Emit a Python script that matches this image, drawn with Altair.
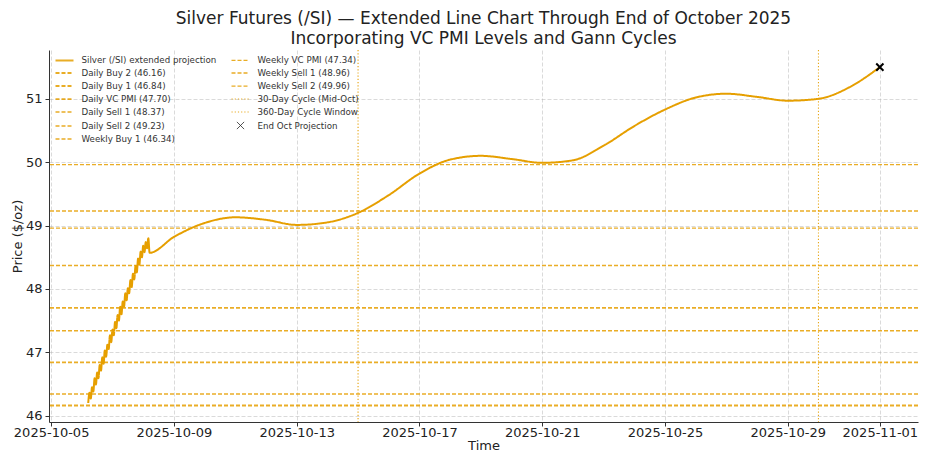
import altair as alt
import pandas as pd

# ---------------- data ----------------
main_name = "Silver (/SI) extended projection"

intraday_start = "2025-10-06T05:00"
intraday_prices = [46.20, 46.36, 46.27, 46.45, 46.38, 46.59, 46.49, 46.68, 46.59, 46.80,
                   46.71, 46.92, 46.82, 47.03, 46.93, 47.12, 47.05, 47.27, 47.16, 47.36,
                   47.27, 47.48, 47.38, 47.59, 47.50, 47.72, 47.60, 47.80, 47.72, 47.93,
                   47.82, 48.01, 47.93, 48.14, 48.03, 48.24, 48.15, 48.36, 48.26, 48.48,
                   48.38, 48.59, 48.50, 48.68, 48.58, 48.74, 48.64, 48.80]

proj_dates = ["2025-10-08T05:00", "2025-10-09T00:00", "2025-10-10T00:00", "2025-10-11T00:00",
              "2025-10-12T00:00", "2025-10-13T00:00", "2025-10-14T00:00", "2025-10-15T00:00",
              "2025-10-16T00:00", "2025-10-17T00:00", "2025-10-18T00:00", "2025-10-19T00:00",
              "2025-10-20T00:00", "2025-10-21T00:00", "2025-10-22T00:00", "2025-10-23T00:00",
              "2025-10-24T00:00", "2025-10-25T00:00", "2025-10-26T00:00", "2025-10-27T00:00",
              "2025-10-28T00:00", "2025-10-29T00:00", "2025-10-30T00:00", "2025-10-31T00:00",
              "2025-11-01T00:00"]
proj_prices = [48.57, 48.82, 49.04, 49.13, 49.09, 49.01, 49.05, 49.20, 49.48, 49.82,
               50.04, 50.10, 50.05, 49.99, 50.03, 50.26, 50.57, 50.83, 51.02, 51.08,
               51.03, 50.97, 51.00, 51.18, 51.50]

level_names = ["Daily Buy 2 (46.16)", "Daily Buy 1 (46.84)", "Daily VC PMI (47.70)",
               "Daily Sell 1 (48.37)", "Daily Sell 2 (49.23)", "Weekly Buy 1 (46.34)",
               "Weekly VC PMI (47.34)", "Weekly Sell 1 (48.96)", "Weekly Sell 2 (49.96)"]
level_values = [46.16, 46.84, 47.70, 48.37, 49.23, 46.34, 47.34, 48.96, 49.96]

cycle_names = ["30-Day Cycle (Mid-Oct)", "360-Day Cycle Window"]
cycle_dates = ["2025-10-15T00:00", "2025-10-30T00:00"]

end_name = "End Oct Projection"
end_date = ["2025-11-01T00:00"]
end_price = [51.50]

x_tick_dates = [(2025, 10, 5), (2025, 10, 9), (2025, 10, 13), (2025, 10, 17),
                (2025, 10, 21), (2025, 10, 25), (2025, 10, 29), (2025, 11, 1)]
y_ticks = [46, 47, 48, 49, 50, 51]

title_lines = ["Silver Futures (/SI) \u2014 Extended Line Chart Through End of October 2025",
               "Incorporating VC PMI Levels and Gann Cycles"]

# ---------------- tables ----------------
intraday_times = pd.date_range(intraday_start, periods=len(intraday_prices), freq="h")
main_df = pd.DataFrame({
    "time": [t.strftime("%Y-%m-%dT%H:%M") for t in intraday_times] + proj_dates,
    "price": intraday_prices + proj_prices,
    "series": main_name,
})
level_df = pd.DataFrame({"price": level_values, "series": level_names})
cycle_df = pd.DataFrame({"time": cycle_dates, "series": cycle_names})
end_df = pd.DataFrame({"time": end_date, "price": end_price, "series": end_name})

# legend order (Vega fills the 2 legend columns top to bottom)
legend_order = [main_name] + level_names + cycle_names + [end_name]

ORANGE = "#E69F00"
LINE_PATH = "M-2,0L2,0"
X_PATH = "M-0.8,-0.8L0.8,0.8M-0.8,0.8L0.8,-0.8"


def style_for(name):
    if name == main_name:
        return ORANGE, [1, 0], LINE_PATH, 2.0
    if name in cycle_names:
        return ORANGE, [1.2, 2], LINE_PATH, 1.2
    if name == end_name:
        return "black", [1, 0], X_PATH, 2.0
    return ORANGE, [4, 2], LINE_PATH, 1.0


colors = [style_for(n)[0] for n in legend_order]
dashes = [style_for(n)[1] for n in legend_order]
shapes = [style_for(n)[2] for n in legend_order]
widths = [style_for(n)[3] for n in legend_order]

legend = alt.Legend(title=None, orient="none", legendX=10, legendY=4.5, columns=2,
                    columnPadding=11, rowPadding=2, labelFontSize=8.7, labelFont="DejaVu Sans",
                    labelColor="#333", labelOffset=11.5, symbolSize=81, padding=0,
                    labelLimit=300)

color_enc = alt.Color("series:N", scale=alt.Scale(domain=legend_order, range=colors), legend=legend)
dash_enc = alt.StrokeDash("series:N", scale=alt.Scale(domain=legend_order, range=dashes), legend=legend)
shape_enc = alt.Shape("series:N", scale=alt.Scale(domain=legend_order, range=shapes), legend=legend)
width_enc = alt.StrokeWidth("series:N", scale=alt.Scale(domain=legend_order, range=widths), legend=legend)

x_scale = alt.Scale(domain=[alt.DateTime(year=2025, month=10, date=4, hours=22, minutes=20),
                            alt.DateTime(year=2025, month=11, date=2, hours=5, minutes=50)])
y_scale = alt.Scale(domain=[45.9, 51.77], nice=False, zero=False)

x_axis = alt.Axis(title="Time", format="%Y-%m-%d", labelAngle=0,
                  values=[alt.DateTime(year=y, month=m, date=d) for (y, m, d) in x_tick_dates])
y_axis = alt.Axis(title="Price ($/oz)", values=y_ticks, format="d")

levels = alt.Chart(level_df).mark_rule(opacity=0.85).encode(
    y=alt.Y("price:Q", scale=y_scale, axis=y_axis),
    color=color_enc, strokeDash=dash_enc, strokeWidth=width_enc,
)
cycles = alt.Chart(cycle_df).mark_rule(opacity=0.9).encode(
    x=alt.X("time:T", scale=x_scale, axis=x_axis),
    color=color_enc, strokeDash=dash_enc, strokeWidth=width_enc,
)
line = alt.Chart(main_df).mark_line(interpolate="monotone").encode(
    x=alt.X("time:T", scale=x_scale, axis=x_axis),
    y=alt.Y("price:Q", scale=y_scale, axis=y_axis),
    color=color_enc, strokeDash=dash_enc, strokeWidth=width_enc,
)
end_pt = alt.Chart(end_df).mark_point(filled=False, strokeWidth=2, opacity=1, size=81).encode(
    x=alt.X("time:T", scale=x_scale, axis=x_axis),
    y=alt.Y("price:Q", scale=y_scale, axis=y_axis),
    color=color_enc, shape=shape_enc,
)

chart = alt.layer(levels, cycles, line, end_pt).properties(
    width=869, height=372,
    title=alt.Title(text=title_lines, fontSize=17, font="DejaVu Sans", fontWeight="normal",
                    color="#222", anchor="middle", lineHeight=20, offset=1),
    autosize=alt.AutoSizeParams(type="none"),
    padding={"left": 41, "top": 42, "right": 4, "bottom": 31},
).configure_view(stroke=None).configure_axis(
    labelFont="DejaVu Sans", titleFont="DejaVu Sans", labelFontSize=13, titleFontSize=13,
    labelColor="#222", titleColor="#222", titleFontWeight="normal",
    domainColor="#333", tickColor="#333", tickSize=4, labelPadding=3,
    gridColor="#b0b0b0", gridOpacity=0.6, gridDash=[4, 2], gridWidth=0.8,
).configure_axisX(titlePadding=0, labelPadding=0).configure_axisY(titlePadding=1)

chart.save("out.html", embed_options={"renderer": "svg", "actions": False})
